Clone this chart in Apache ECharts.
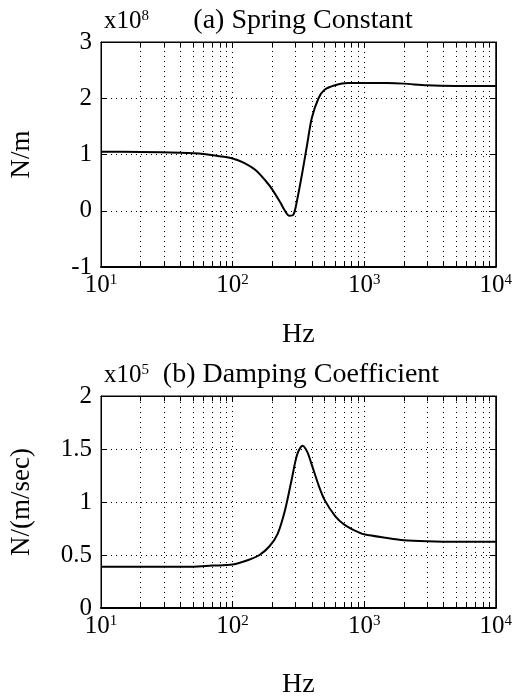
<!DOCTYPE html>
<html>
<head>
<meta charset="utf-8">
<script src="https://cdn.jsdelivr.net/npm/echarts@6/dist/echarts.min.js"></script>
<style>
  html, body { margin: 0; padding: 0; background: #fff; }
  #chart { width: 515px; height: 700px; }
</style>
</head>
<body>
<div id="chart"></div>
<script>
// (a) spring constant, x1e8 N/m
const springHz = [10, 20, 40, 60, 80, 100, 120, 150, 180, 200, 230, 250, 270, 290, 310, 340, 370, 400, 450, 500, 600, 750, 1000, 1500, 2000, 3000, 5000, 10000]
const springVal = [1.05, 1.045, 1.03, 1.01, 0.97, 0.93, 0.86, 0.72, 0.52, 0.38, 0.15, 0.0, -0.09, -0.07, 0.2, 0.7, 1.2, 1.65, 2.0, 2.15, 2.23, 2.27, 2.27, 2.27, 2.26, 2.23, 2.22, 2.22]

// (b) damping coefficient, x1e5 N/(m/sec)
const dampHz = [10, 30, 50, 70, 100, 130, 160, 190, 220, 250, 280, 310, 340, 370, 400, 450, 500, 600, 700, 850, 1000, 1500, 2000, 3000, 5000, 10000]
const dampVal = [0.39, 0.39, 0.39, 0.40, 0.41, 0.45, 0.50, 0.58, 0.70, 0.92, 1.20, 1.45, 1.53, 1.47, 1.35, 1.16, 1.02, 0.87, 0.79, 0.73, 0.695, 0.66, 0.64, 0.63, 0.625, 0.625]

// minor log grid positions (2..9 of each decade)
const minorHz = [20, 30, 40, 50, 60, 70, 80, 90, 200, 300, 400, 500, 600, 700, 800, 900, 2000, 3000, 4000, 5000, 6000, 7000, 8000, 9000]

const FONT = 'Liberation Serif'
const dotted = { color: '#000', width: 1, type: [1, 4] }

function pairs(xs, ys) {
  return xs.map((x, i) => [x, ys[i]])
}

function powLabel(v) {
  return '{b|10}{s|' + Math.round(Math.log10(v)) + '}'
}

const powRich = {
  b: { fontFamily: FONT, fontSize: 25, color: '#000', verticalAlign: 'bottom' },
  s: { fontFamily: FONT, fontSize: 15, color: '#000', verticalAlign: 'top' }
}

function bottomX(gridIndex, gap) {
  return {
    type: 'log', logBase: 10, gridIndex, min: 10, max: 10000,
    name: 'Hz', nameLocation: 'middle', nameGap: gap, nameMoveOverlap: false,
    nameTextStyle: { fontFamily: FONT, fontSize: 28, color: '#000' },
    axisLine: { show: true, onZero: false, lineStyle: { color: '#000', width: 2 } },
    axisTick: { show: true, inside: true, length: 6, lineStyle: { color: '#000' } },
    axisLabel: { formatter: powLabel, rich: powRich, margin: 6 },
    splitLine: { show: true, lineStyle: dotted },
    minorTick: { show: false },
    minorSplitLine: { show: false }
  }
}

function topX(gridIndex) {
  return {
    type: 'log', logBase: 10, gridIndex, min: 10, max: 10000, position: 'top',
    axisLine: { show: true, onZero: false, lineStyle: { color: '#000' } },
    axisTick: { show: true, inside: true, length: 6, lineStyle: { color: '#000' } },
    axisLabel: { show: false },
    splitLine: { show: false }
  }
}

function leftY(gridIndex, min, max, interval, name) {
  return {
    type: 'value', gridIndex, min, max, interval,
    name, nameLocation: 'middle', nameGap: 66, nameMoveOverlap: false,
    nameTextStyle: { fontFamily: FONT, fontSize: 27, color: '#000' },
    axisLine: { show: true, onZero: false, lineStyle: { color: '#000' } },
    axisTick: { show: true, inside: true, length: 6, lineStyle: { color: '#000' } },
    axisLabel: { fontFamily: FONT, fontSize: 25, color: '#000', margin: 9 },
    splitLine: { show: true, lineStyle: dotted }
  }
}

function rightY(gridIndex, min, max, interval) {
  return {
    type: 'value', gridIndex, min, max, interval, position: 'right',
    axisLine: { show: true, onZero: false, lineStyle: { color: '#000' } },
    axisTick: { show: true, inside: true, length: 6, lineStyle: { color: '#000' } },
    axisLabel: { show: false },
    splitLine: { show: false }
  }
}

// minor ticks along top and bottom edges, tickLen in y units
function minorTicks(yMin, yMax, tickLen) {
  const segs = []
  minorHz.forEach(h => {
    segs.push([{ xAxis: h, yAxis: yMin }, { xAxis: h, yAxis: yMin + tickLen }])
    segs.push([{ xAxis: h, yAxis: yMax }, { xAxis: h, yAxis: yMax - tickLen }])
  })
  return segs
}

function curve(xIdx, yIdx, data, yMin, yMax, tickLen) {
  return {
    type: 'line', xAxisIndex: xIdx, yAxisIndex: yIdx,
    data, smooth: 0.3, symbol: 'none',
    lineStyle: { color: '#000', width: 2 },
    markLine: {
      silent: true, symbol: ['none', 'none'], label: { show: false },
      animation: false,
      data: minorHz.map(h => ({ xAxis: h, lineStyle: dotted }))
        .concat(minorTicks(yMin, yMax, tickLen).map(s => {
          s[0].lineStyle = { color: '#000', width: 1, type: 'solid' }
          return s
        }))
    }
  }
}

const chart = echarts.init(document.getElementById('chart'))
chart.setOption({
  animation: false,
  backgroundColor: '#fff',
  title: [
    { text: '(a) Spring Constant', left: 298, top: 2, textAlign: 'center',
      textStyle: { fontFamily: FONT, fontSize: 28, fontWeight: 'normal', color: '#000' } },
    { text: 'x10{s|8}', left: 99, top: 4,
      textStyle: { fontFamily: FONT, fontSize: 25, fontWeight: 'normal', color: '#000',
        rich: { s: { fontFamily: FONT, fontSize: 15, color: '#000', verticalAlign: 'top' } } } },
    { text: '(b) Damping Coefficient', left: 296, top: 356, textAlign: 'center',
      textStyle: { fontFamily: FONT, fontSize: 28, fontWeight: 'normal', color: '#000' } },
    { text: 'x10{s|5}', left: 99, top: 358,
      textStyle: { fontFamily: FONT, fontSize: 25, fontWeight: 'normal', color: '#000',
        rich: { s: { fontFamily: FONT, fontSize: 15, color: '#000', verticalAlign: 'top' } } } }
  ],
  grid: [
    { left: 100, top: 42, width: 407, height: 225, show: true, borderColor: '#000', borderWidth: 1 },
    { left: 100, top: 396, width: 407, height: 226, show: true, borderColor: '#000', borderWidth: 1 }
  ],
  xAxis: [bottomX(0, 54), bottomX(1, 63), topX(0), topX(1)],
  yAxis: [
    leftY(0, -1, 3, 1, 'N/m'),
    leftY(1, 0, 2, 0.5, 'N/(m/sec)'),
    rightY(0, -1, 3, 1),
    rightY(1, 0, 2, 0.5)
  ],
  series: [
    curve(0, 0, pairs(springHz, springVal), -1, 3, 0.1),
    curve(1, 1, pairs(dampHz, dampVal), 0, 2, 0.05)
  ]
})
</script>
</body>
</html>
